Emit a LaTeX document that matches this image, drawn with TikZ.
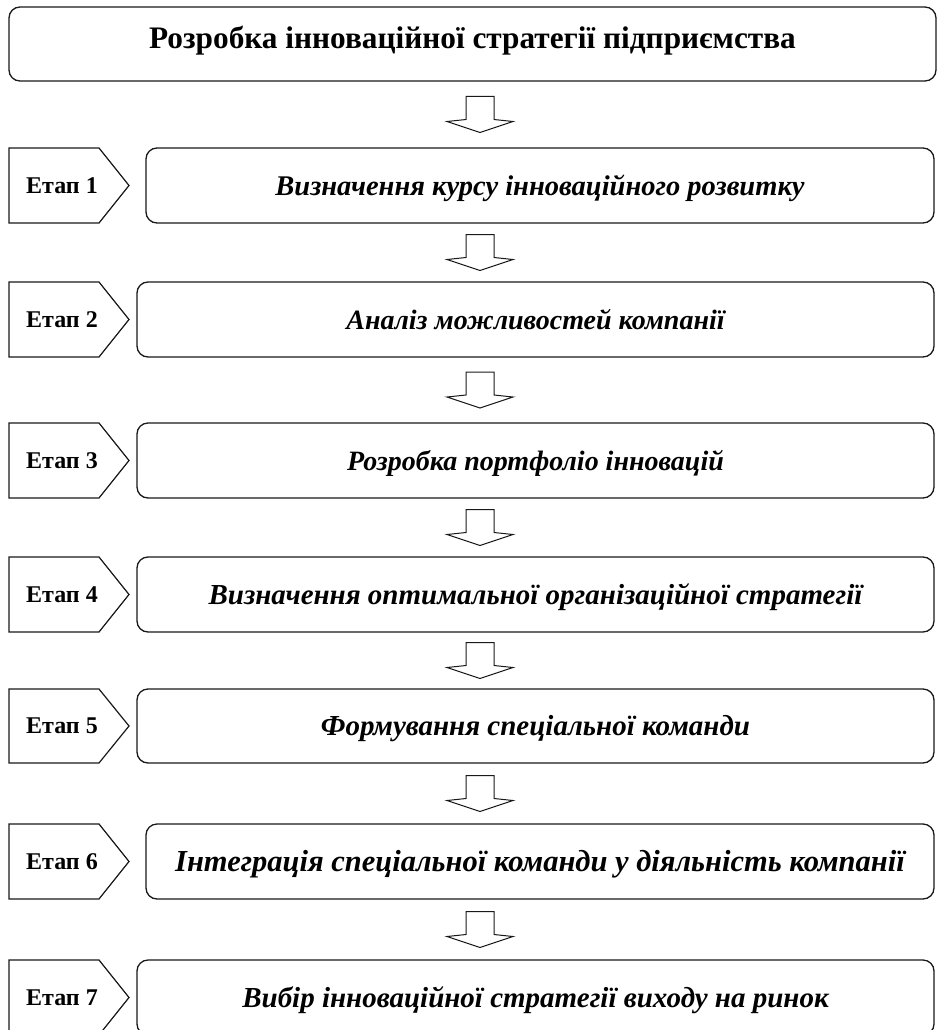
\documentclass[tikz,border=0pt]{standalone}
\usepackage{fontspec}
\setmainfont{Liberation Serif}
\usetikzlibrary{calc}
\begin{document}
\begin{tikzpicture}[x=1pt,y=-1pt,
  titlebox/.style={draw=black!90, line width=1.3pt, rounded corners=11pt, minimum width=927pt, minimum height=74pt, inner sep=0pt, text height=20.7pt, text depth=11pt, font=\bfseries\fontsize{31.3}{36}\selectfont},
  stagebox/.style={draw=black!90, line width=1.3pt, rounded corners=11pt, minimum height=75pt, inner sep=0pt, text height=19pt, text depth=0pt},
  fs/.style={font=\bfseries\itshape\fontsize{#1}{#1}\selectfont},
  pent/.style={draw=black!90, line width=1.2pt, line join=miter},
  stagelabel/.style={inner sep=0pt, font=\bfseries\fontsize{24}{28}\selectfont},
  blockarr/.style={draw=black!90, line width=1pt, fill=white, line join=miter}]
\useasboundingbox (0,0) rectangle (937,1030);
\clip (0,0) rectangle (937,1030);
\fill[white] (0,0) rectangle (937,1030);

\node[titlebox] (title) at (472.5,44) {Розробка інноваційної стратегії підприємства};

\node[stagebox, fs=28.5, minimum width=788pt] (s1) at (540,185.5) {Визначення курсу інноваційного розвитку};
\node[stagebox, fs=28, minimum width=797pt] (s2) at (535.5,319.5) {Аналіз можливостей компанії};
\node[stagebox, fs=28, minimum width=797pt] (s3) at (535.5,460.5) {Розробка портфоліо інновацій};
\node[stagebox, fs=29, minimum width=797pt] (s4) at (535.5,594.5) {Визначення оптимальної організаційної стратегії};
\node[stagebox, fs=29, minimum width=797pt, minimum height=74pt] (s5) at (535.5,726) {Формування спеціальної команди};
\node[stagebox, fs=30.5, minimum width=788pt] (s6) at (540,861.5) {Інтеграція спеціальної команди у діяльність компанії};
\node[stagebox, fs=29, minimum width=797pt] (s7) at (535.5,997.5) {Вибір інноваційної стратегії виходу на ринок};

\foreach \yc/\n/\h in {185.5/1/37.5, 319.5/2/37.5, 460.5/3/37.5, 594.5/4/37.5, 726/5/37, 861.5/6/37.5, 997.5/7/37.5}{
  \draw[pent] (9,\yc-\h) -- (99,\yc-\h) -- (129,\yc) -- (99,\yc+\h) -- (9,\yc+\h) -- cycle;
  \node[stagelabel] (e\n) at (62,\yc) {Етап \n};
}

\foreach \a/\b/\k in {title/s1/0, s1/s2/1, s2/s3/2, s3/s4/3, s4/s5/4, s5/s6/5, s6/s7/6}{
  \path let \p1=(\a.south), \p2=(\b.north) in coordinate (m\k) at (480,{0.5*(\y1+\y2)});
  \draw[blockarr] ($(m\k)+(-14,-18)$) -- ($(m\k)+(14,-18)$) -- ($(m\k)+(14,5)$) -- ($(m\k)+(33,7)$)
     -- ($(m\k)+(0,18)$) -- ($(m\k)+(-33,7)$) -- ($(m\k)+(-14,5)$) -- cycle;
}
\end{tikzpicture}
\end{document}
